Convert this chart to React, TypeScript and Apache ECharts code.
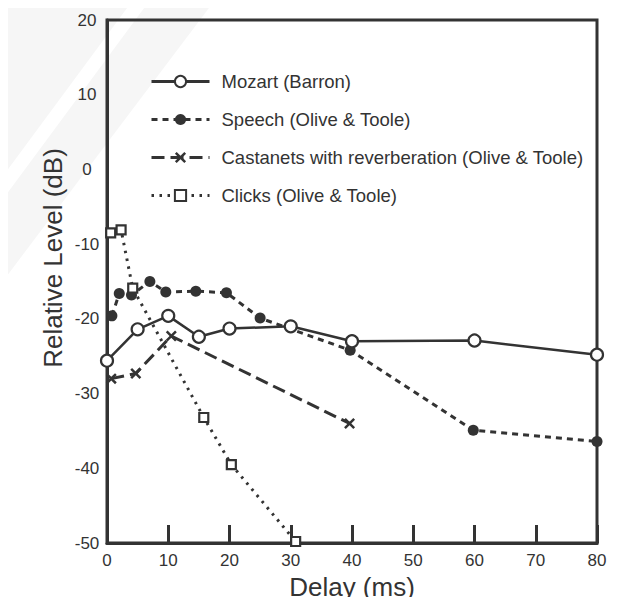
import React, { useEffect, useRef } from "react";
import * as echarts from "echarts";

const mozartX = [0, 5, 10, 15, 20, 30, 40, 60, 80];
const mozartY = [-25.6, -21.4, -19.6, -22.4, -21.3, -21.0, -23.0, -22.9, -24.8];

const speechX = [0.8, 2, 4, 7, 9.6, 14.5, 19.5, 25, 39.7, 59.8, 80];
const speechY = [-19.6, -16.6, -16.8, -15.0, -16.4, -16.3, -16.5, -19.9, -24.2, -34.9, -36.4];

const castanetsX = [0.7, 4.7, 10.5, 39.6];
const castanetsY = [-28.0, -27.3, -22.3, -34.0];

const clicksX = [0.6, 2.3, 4.2, 15.8, 20.3, 30.8];
const clicksY = [-8.5, -8.1, -15.9, -33.2, -39.5, -49.8];

const seriesNames = [
  "Mozart (Barron)",
  "Speech (Olive & Toole)",
  "Castanets with reverberation (Olive & Toole)",
  "Clicks (Olive & Toole)",
];

const xTicks = { min: 0, max: 80, interval: 10 };
const yTicks = { min: -50, max: 20, interval: 10 };

const INK = "#333333";
const FONT = "'Liberation Sans', Arial, Helvetica, sans-serif";

const pair = (xs: number[], ys: number[]) => xs.map((x, i) => [x, ys[i]]);

const X_SYMBOL =
  "path://M1.6,0 L5,3.4 L8.4,0 L10,1.6 L6.6,5 L10,8.4 L8.4,10 L5,6.6 L1.6,10 L0,8.4 L3.4,5 L0,1.6 Z";

export default function App() {
  const ref = useRef<HTMLDivElement>(null);
  useEffect(() => {
    if (!ref.current) return;
    const chart = echarts.init(ref.current, undefined, { renderer: "svg" });
    chart.setOption({
      animation: false,
      backgroundColor: "#ffffff",
      textStyle: { fontFamily: FONT, color: INK },
      grid: {
        left: 107,
        right: 25,
        top: 20,
        bottom: 60,
        show: true,
        borderColor: INK,
        borderWidth: 3,
        backgroundColor: "transparent",
      },
      legend: {
        orient: "vertical",
        left: 145,
        top: 67,
        itemWidth: 58,
        itemHeight: 14,
        itemGap: 19,
        lineStyle: { width: 3 },
        textStyle: { fontFamily: FONT, fontSize: 18.5, color: INK, padding: [0, 0, 0, 7] },
        data: seriesNames,
      },
      xAxis: {
        type: "value",
        min: xTicks.min,
        max: xTicks.max,
        interval: xTicks.interval,
        name: "Delay (ms)",
        nameLocation: "middle",
        nameGap: 31,
        nameTextStyle: { fontFamily: FONT, fontSize: 26, color: INK },
        axisLine: { show: true, onZero: false, lineStyle: { color: INK, width: 3 } },
        axisTick: { show: true, inside: true, length: 18, lineStyle: { color: INK, width: 3 } },
        axisLabel: { fontFamily: FONT, fontSize: 17, color: INK, margin: 9 },
        splitLine: { show: false },
      },
      yAxis: {
        type: "value",
        min: yTicks.min,
        max: yTicks.max,
        interval: yTicks.interval,
        axisLine: { show: true, onZero: false, lineStyle: { color: INK, width: 3 } },
        axisTick: { show: false },
        axisLabel: { fontFamily: FONT, fontSize: 17, color: INK, margin: 20, align: "center" },
        splitLine: { show: false },
      },
      graphic: [
        {
          type: "group",
          silent: true,
          z: -10,
          children: [
            {
              type: "polygon",
              shape: { points: [[0, 0], [215, 0], [0, 285]] },
              style: { fill: "#f6f6f6" },
              z: -10,
            },
            {
              type: "polygon",
              shape: { points: [[133, 0], [150, 0], [0, 203], [0, 180]] },
              style: { fill: "#ffffff" },
              z: -9,
            },
          ],
        },
        {
          type: "text",
          x: 53,
          y: 258,
          rotation: Math.PI / 2,
          style: {
            text: "Relative Level (dB)",
            fontFamily: FONT,
            fontSize: 26,
            fill: INK,
            textAlign: "center",
            textVerticalAlign: "middle",
          },
        },
      ],
      series: [
        {
          name: seriesNames[0],
          type: "line",
          clip: false,
          data: pair(mozartX, mozartY),
          symbol: "circle",
          symbolSize: 12,
          z: 5,
          lineStyle: { color: INK, width: 2.5, type: "solid" },
          itemStyle: { color: "#ffffff", borderColor: INK, borderWidth: 2.2 },
        },
        {
          name: seriesNames[1],
          type: "line",
          clip: false,
          data: pair(speechX, speechY),
          symbol: "circle",
          symbolSize: 11,
          z: 4,
          lineStyle: { color: INK, width: 3, type: [6, 5] },
          itemStyle: { color: INK, borderColor: INK, borderWidth: 0 },
        },
        {
          name: seriesNames[2],
          type: "line",
          clip: false,
          data: pair(castanetsX, castanetsY),
          symbol: X_SYMBOL,
          symbolSize: 11,
          z: 3,
          lineStyle: { color: INK, width: 3, type: [13, 6] },
          itemStyle: { color: INK, borderWidth: 0 },
        },
        {
          name: seriesNames[3],
          type: "line",
          clip: false,
          data: pair(clicksX, clicksY),
          symbol: "rect",
          symbolSize: 9,
          z: 6,
          lineStyle: { color: INK, width: 3, type: [2.5, 5.5] },
          itemStyle: { color: "#ffffff", borderColor: INK, borderWidth: 2.2 },
        },
      ],
    });
    return () => chart.dispose();
  }, []);
  return <div ref={ref} style={{ width: 622, height: 605, margin: -8 }} />;
}
